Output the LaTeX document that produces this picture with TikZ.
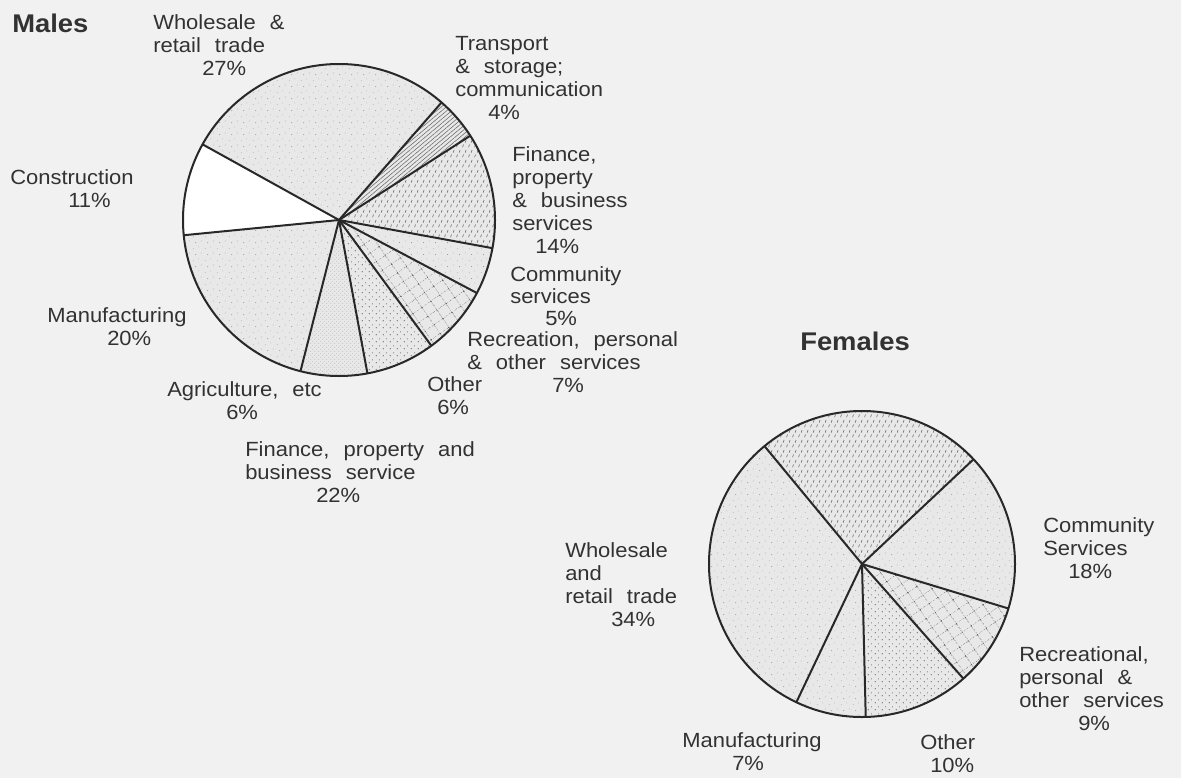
\documentclass[tikz,border=0pt]{standalone}
\usepackage{fontspec}
\setmainfont{Liberation Sans}[FakeStretch=1.07, WordSpace=2.3]
\usetikzlibrary{patterns,patterns.meta}
\definecolor{bg}{RGB}{241,241,241}
\definecolor{ink}{RGB}{40,40,40}
\definecolor{txt}{RGB}{50,50,50}
\definecolor{light}{RGB}{232,232,232}

\tikzdeclarepattern{
  name=stipple, type=uncolored,
  bounding box={(0pt,0pt) and (9pt,9pt)}, tile size={(9pt,9pt)},
  code={\fill (1pt,1pt) circle (0.35pt); \fill (5.5pt,2.5pt) circle (0.3pt);
        \fill (3pt,6pt) circle (0.4pt); \fill (7.5pt,7.3pt) circle (0.3pt);}}
\tikzdeclarepattern{
  name=finedots, type=uncolored,
  bounding box={(0pt,0pt) and (2.6pt,2.6pt)}, tile size={(2.6pt,2.6pt)},
  code={\fill (0.7pt,0.7pt) circle (0.33pt); \fill (2pt,2pt) circle (0.28pt);}}
\tikzdeclarepattern{
  name=heavydots, type=uncolored,
  bounding box={(0pt,0pt) and (5pt,5pt)}, tile size={(5pt,5pt)},
  code={\fill (1pt,1pt) circle (0.45pt); \fill (3.5pt,3.2pt) circle (0.4pt);}}
\tikzdeclarepattern{
  name=dashhatch, type=uncolored,
  bounding box={(0pt,0pt) and (4.5pt,7.5pt)}, tile size={(4.5pt,7.5pt)},
  code={\draw[line width=0.5pt] (0.5pt,0.6pt) -- (1.3pt,2.8pt);
        \draw[line width=0.5pt] (2.75pt,4.35pt) -- (3.55pt,6.55pt);}}
\tikzdeclarepattern{
  name=dgrid, type=uncolored,
  bounding box={(0pt,0pt) and (8pt,8pt)}, tile size={(8pt,8pt)},
  tile transformation={rotate=35},
  code={\draw[line width=0.35pt, dash pattern=on 0.9pt off 0.9pt] (0pt,4pt) -- (8pt,4pt) (4pt,0pt) -- (4pt,8pt);
        \fill (4pt,4pt) circle (0.6pt);}}

\tikzset{
  pieline/.style={draw=ink, line width=1.5pt, line join=round},
  lbl/.style={text=txt, inner sep=0pt, anchor=north west, align=left,
              font=\fontsize{15.4}{17.25}\selectfont},
  ttl/.style={text=txt, inner sep=0pt, anchor=north west,
              font=\fontsize{19.2}{21}\selectfont\bfseries},
  stip/.style={fill=light, postaction={pattern=stipple, pattern color=black!45}},
  blank/.style={fill=white!97!bg},
  fine/.style={fill=light, postaction={pattern=finedots, pattern color=black!40}},
  heavy/.style={fill=light, postaction={pattern=heavydots, pattern color=black!60}},
  dashh/.style={fill=light, postaction={pattern=dashhatch, pattern color=black!60}},
  transp/.style={fill=light, postaction={pattern={Lines[angle=40,distance=2.4pt,line width=0.4pt]}, pattern color=black!60}},
  grid/.style={fill=light, postaction={pattern=dgrid, pattern color=black!65}}
}
% #1 style, #2 centre, #3 start angle, #4 end angle, #5 radius
\newcommand\pieslice[5]{\path[#1] (#2) -- ++(#3:#5) arc[start angle=#3, end angle=#4, radius=#5] -- cycle;}

\begin{document}
\begin{tikzpicture}[x=0.75pt, y=-0.75pt]
\useasboundingbox (0,0) rectangle (1181,778);
\fill[bg] (0,0) rectangle (1181,778);

% ---------------- Males ----------------
\coordinate (mc) at (339,220);
\pieslice{transp}{mc}{-48.9}{-32.7}{156}
\pieslice{dashh}{mc}{-32.7}{10.4}{156}
\pieslice{stip}{mc}{10.4}{27.9}{156}
\pieslice{grid}{mc}{27.9}{53.7}{156}
\pieslice{heavy}{mc}{53.7}{79.5}{156}
\pieslice{fine}{mc}{79.5}{104.3}{156}
\pieslice{stip}{mc}{104.3}{174.4}{156}
\pieslice{blank}{mc}{174.4}{209}{156}
\pieslice{stip}{mc}{209}{311.1}{156}
\draw[pieline] (mc) circle[radius=156];
\foreach \a in {-48.9,-32.7,10.4,27.9,53.7,79.5,104.3,174.4,209}
  \draw[pieline] (mc) -- ++(\a:156);

\node[ttl] (males) at (12,14) {Males};
\node[lbl] (mwhole) at (153,14) {Wholesale \&\\retail trade\\\hspace*{36.75pt}27\%};
\node[lbl] (mtrans) at (455,36) {Transport\\\& storage;\\communication\\\hspace*{24.75pt}4\%};
\node[lbl] (mfin) at (512,146) {Finance,\\property\\\& business\\services\\\hspace*{17.25pt}14\%};
\node[lbl, font=\fontsize{15.4}{16.6}\selectfont] (mcomm) at (510,266) {Community\\services\\\hspace*{26.25pt}5\%};
\node[lbl] (mrec) at (467,331) {Recreation, personal\\\& other services\\\hspace*{63.75pt}7\%};
\node[lbl] (moth) at (427,376) {Other\\\hspace*{7.5pt}6\%};
\node[lbl] (mcons) at (10,169) {Construction\\\hspace*{43.5pt}11\%};
\node[lbl] (mmanu) at (47,307) {Manufacturing\\\hspace*{45pt}20\%};
\node[lbl] (magri) at (167,381) {Agriculture, etc\\\hspace*{44.25pt}6\%};
\node[lbl] (ffin) at (245,441) {Finance, property and\\business service\\\hspace*{53.25pt}22\%};

% ---------------- Females ----------------
\coordinate (fc) at (862,564);
\pieslice{dashh}{fc}{230.4}{316.8}{153}
\pieslice{stip}{fc}{-43.2}{16.9}{153}
\pieslice{grid}{fc}{16.9}{48.5}{153}
\pieslice{heavy}{fc}{48.5}{88.6}{153}
\pieslice{stip}{fc}{88.6}{115.4}{153}
\pieslice{stip}{fc}{115.4}{230.4}{153}
\draw[pieline] (fc) circle[radius=153];
\foreach \a in {230.4,316.8,16.9,48.5,88.6,115.4}
  \draw[pieline] (fc) -- ++(\a:153);

\node[ttl] (females) at (800,332) {Females};
\node[lbl] (fwhole) at (565,542) {Wholesale\\and\\retail trade\\\hspace*{34.5pt}34\%};
\node[lbl] (fmanu) at (682,732) {Manufacturing\\\hspace*{37.5pt}7\%};
\node[lbl] (foth) at (920,734) {Other\\\hspace*{7.5pt}10\%};
\node[lbl] (fcomm) at (1043,517) {Community\\Services\\\hspace*{18.75pt}18\%};
\node[lbl] (frec) at (1019,646) {Recreational,\\personal \&\\other services\\\hspace*{44.25pt}9\%};
\end{tikzpicture}
\end{document}
